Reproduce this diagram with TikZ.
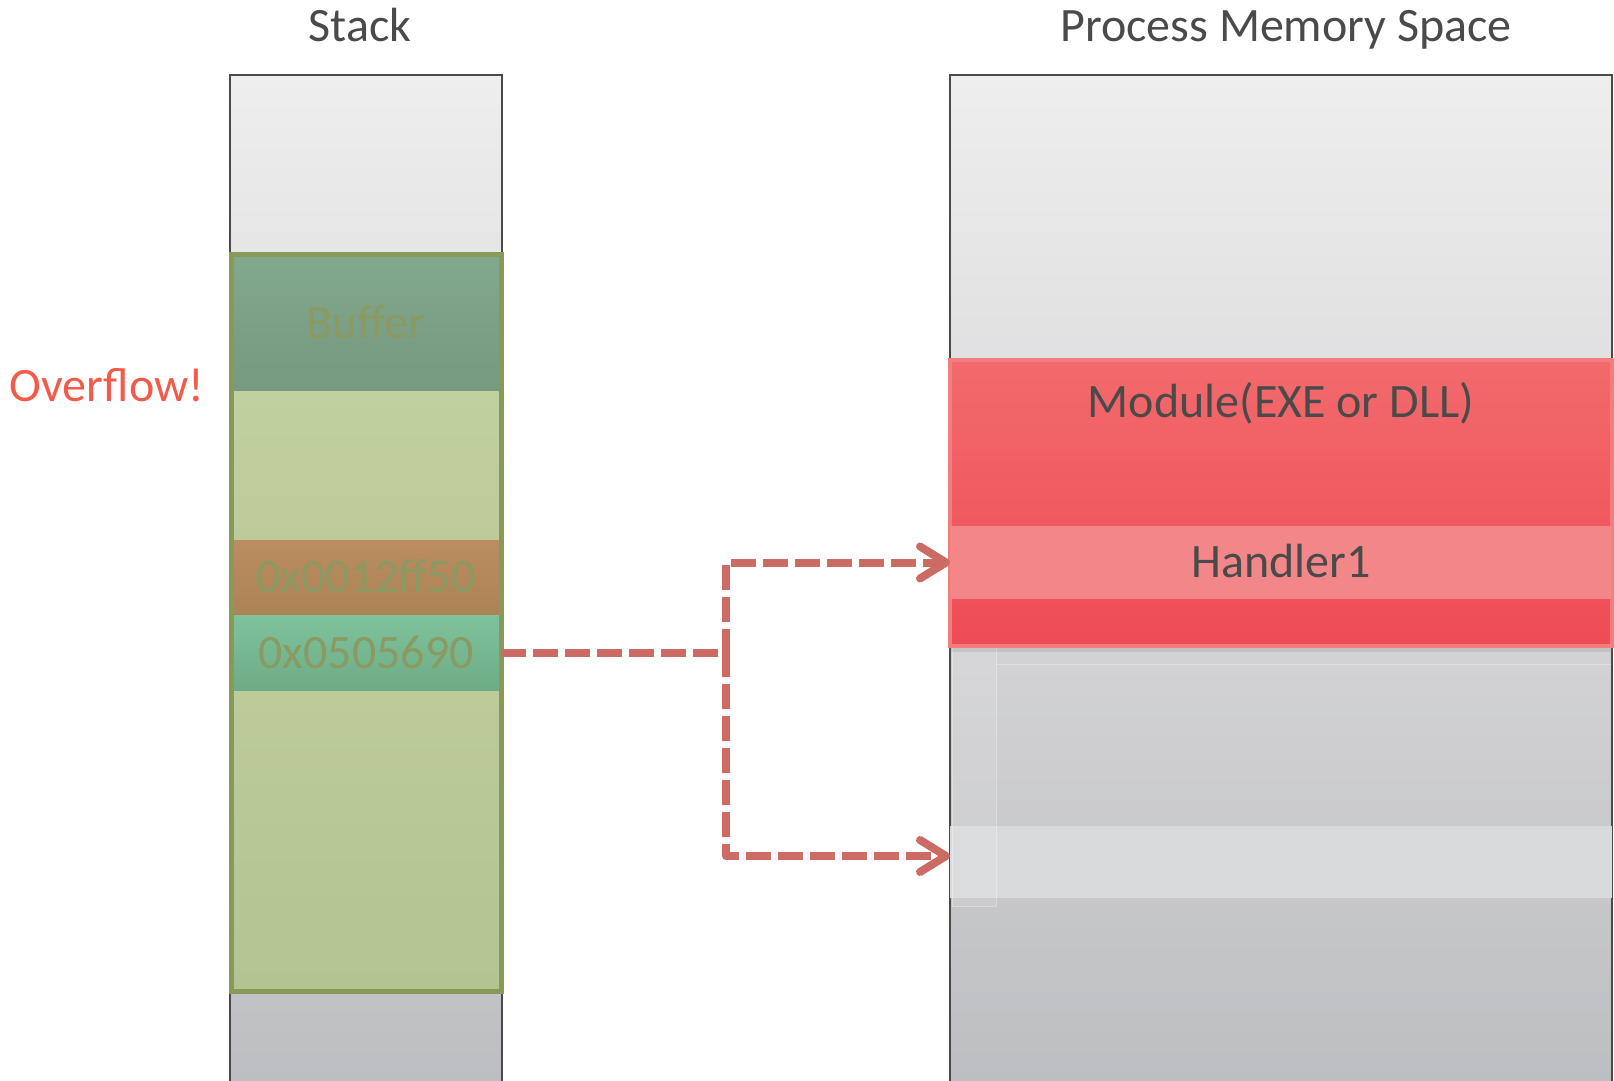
\documentclass[tikz,border=0pt]{standalone}
\usepackage{fontspec}
\setmainfont{Carlito}
\usetikzlibrary{positioning,arrows.meta,shadows}
\definecolor{inkgray}{HTML}{4A4A4A}
\definecolor{colborder}{HTML}{4A4A4A}
\definecolor{coltop}{HTML}{EEEEEF}
\definecolor{colbot}{HTML}{BCBDC0}
\definecolor{buftop}{HTML}{82A88D}
\definecolor{bufbot}{HTML}{76997F}
\definecolor{filltop}{HTML}{C1D09F}
\definecolor{fillmid}{HTML}{BCCB99}
\definecolor{fillbot}{HTML}{B3C491}
\definecolor{rettop}{HTML}{BB8D60}
\definecolor{retbot}{HTML}{AC8356}
\definecolor{sehtop}{HTML}{7EC39C}
\definecolor{sehbot}{HTML}{6EAB85}
\definecolor{framegreen}{HTML}{889958}
\definecolor{slotink}{HTML}{8A9A62}
\definecolor{modtop}{HTML}{F26A6C}
\definecolor{modbot}{HTML}{EE4C55}
\definecolor{modedge}{HTML}{F37C7D}
\definecolor{hndfill}{HTML}{F28688}
\definecolor{sparefill}{HTML}{D9DADB}
\definecolor{ptrred}{HTML}{CC6B64}
\definecolor{warnred}{HTML}{F25A4A}

\begin{document}
\begin{tikzpicture}[x=0.5pt,y=-0.5pt,inner sep=0pt,outer sep=0pt,node distance=0pt,
  font=\fontsize{24}{29}\selectfont]
\tikzstyle{column}=[rectangle, anchor=north, draw=colborder, line width=1pt, top color=coltop, bottom color=colbot, minimum height=515pt]
\tikzstyle{word}=[text height=15.4pt, text depth=0pt]
\tikzstyle{title}=[word, text=inkgray]
\tikzstyle{slot}=[rectangle, word, minimum width=135pt, text=slotink]
\tikzstyle{band}=[rectangle, word, minimum width=331pt, text=inkgray]
\tikzstyle{frame}=[draw=framegreen, line width=2.5pt]
\tikzstyle{ptr}=[draw=ptrred, line width=4pt, dash pattern=on 12.5pt off 3.5pt, line join=round, -{Straight Barb[round,length=13pt,width=16pt]}]
\clip (0,0) rectangle (1614,1081);
% the two columns
\node[column, minimum width=136pt] (stack) at (366,75) {};
\node[column, minimum width=331pt] (mem) at (1281,75) {};
\node[title] (stacktitle) at (360,26) {Stack};
\node[title] (memtitle) at (1286,26) {Process Memory Space};
% stack frame
\node[slot, anchor=north, minimum height=68pt, top color=buftop, bottom color=bufbot] (buf) at (366,255) {Buffer};
\node[slot, below=of buf, minimum height=74.5pt, top color=filltop, bottom color=fillmid] (filla) {};
\node[slot, below=of filla, minimum height=37.5pt, top color=rettop, bottom color=retbot] (ret1) {0x0012ff50};
\node[slot, below=of ret1, minimum height=38pt, top color=sehtop, bottom color=sehbot] (ret2) {0x0505690};
\node[slot, below=of ret2, minimum height=150pt, top color=fillmid, bottom color=fillbot] (fillb) {};
\draw[frame] (buf.north west) rectangle (fillb.south east);
\node[word, text=warnred] (overflow) at (107,386) {Overflow!};
% memory space
\node[band, minimum height=36pt, fill=sparefill] (spare) at (1281,862) {};
\node[rectangle, minimum width=22pt, minimum height=130pt, fill=white, fill opacity=.1, draw=white, draw opacity=.35, line width=.5pt] (strip) at (974,776) {};
\draw[white, opacity=.3, line width=.5pt] (996,664) -- (1611,664);
\node[band, anchor=north, minimum height=143pt, top color=modtop, bottom color=modbot, draw=modedge, line width=2pt,
  drop shadow={shadow xshift=0pt, shadow yshift=-3pt, opacity=.2}] (mod) at (1281,360) {};
\node[band, minimum height=36.5pt, fill=hndfill] (hnd) at (1281,562.5) {Handler1};
\node[title] (modname) at (1281,402) {Module(EXE or DLL)};
% pointers
\coordinate (fork) at (726,653);
\coordinate (slotb) at (950,856);
\draw[ptr] (ret2.east) -- (fork) |- (hnd.west);
\draw[ptr] (ret2.east) -- (fork) |- (slotb);
\end{tikzpicture}
\end{document}
